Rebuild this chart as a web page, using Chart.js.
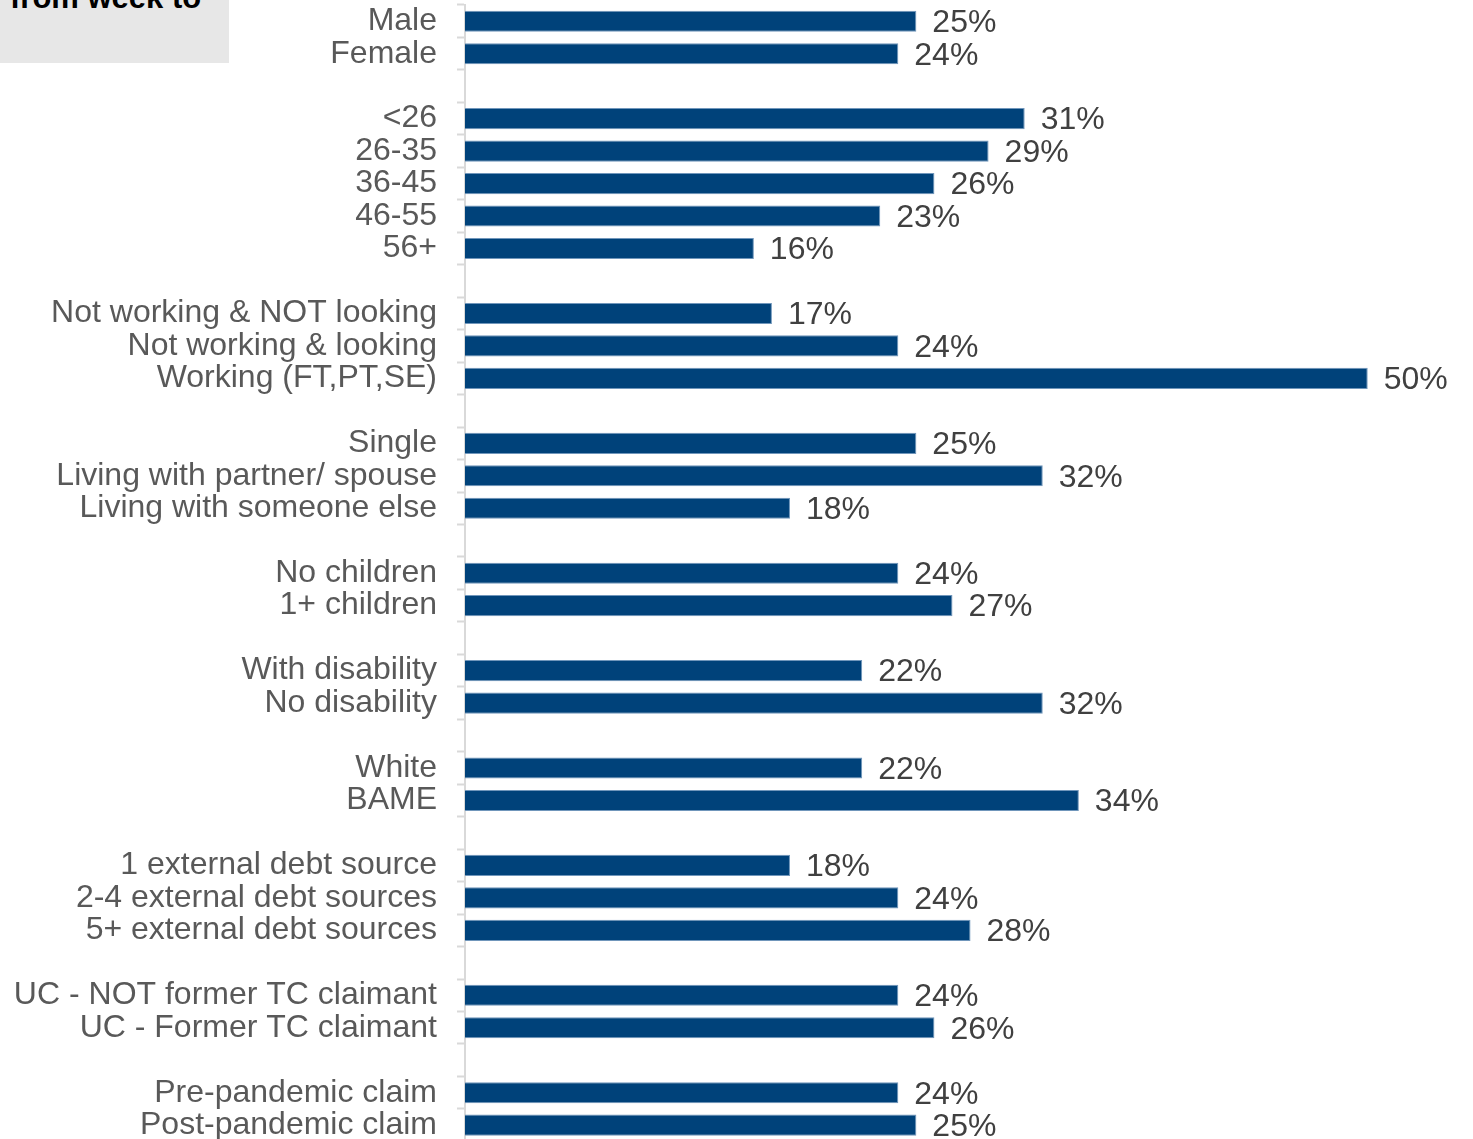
<!DOCTYPE html>
<html>
<head>
<meta charset="utf-8">
<script src="https://cdn.jsdelivr.net/npm/chart.js@4.4.1/dist/chart.umd.min.js"></script>
<style>
  html, body { margin: 0; padding: 0; background: #fff; overflow: hidden; }
  #wrap { position: relative; width: 1473px; height: 1139px; overflow: hidden; }
  #chart { position: absolute; left: 0; top: 0; }
  .tag {
    position: absolute; left: 0; top: 0; width: 229px; height: 63px;
    background: #e7e7e7; overflow: hidden; z-index: 2;
  }
  .tag span {
    position: absolute; left: 10px; bottom: 50px; white-space: nowrap;
    font: bold 31px "Liberation Sans", Arial, sans-serif; color: #000; line-height: 1;
  }
</style>
</head>
<body>
<div id="wrap">
  <div class="tag"><span>from week to</span></div>
  <canvas id="chart" width="1473" height="1160"></canvas>
</div>
<script>
// '' entries are spacer rows between groups
const categories = [
  'Male', 'Female', '',
  '<26', '26-35', '36-45', '46-55', '56+', '',
  'Not working & NOT looking', 'Not working & looking', 'Working (FT,PT,SE)', '',
  'Single', 'Living with partner/ spouse', 'Living with someone else', '',
  'No children', '1+ children', '',
  'With disability', 'No disability', '',
  'White', 'BAME', '',
  '1 external debt source', '2-4 external debt sources', '5+ external debt sources', '',
  'UC - NOT former TC claimant', 'UC - Former TC claimant', '',
  'Pre-pandemic claim', 'Post-pandemic claim'
];

const shares = [
  25, 24, null,
  31, 29, 26, 23, 16, null,
  17, 24, 50, null,
  25, 32, 18, null,
  24, 27, null,
  22, 32, null,
  22, 34, null,
  18, 24, 28, null,
  24, 26, null,
  24, 25
];

const FONT = "'Liberation Sans', Arial, sans-serif";
const BAR_BLUE = '#00427a';

// value text to the right of each bar
const valueLabels = {
  id: 'valueLabels',
  afterDatasetsDraw(chart) {
    const ctx = chart.ctx;
    const meta = chart.getDatasetMeta(0);
    ctx.save();
    ctx.font = '32px ' + FONT;
    ctx.fillStyle = '#404040';
    ctx.textAlign = 'left';
    ctx.textBaseline = 'middle';
    meta.data.forEach((bar, i) => {
      const v = shares[i];
      if (v === null) return;
      ctx.fillText(v + '%', bar.x + 16, bar.y + 2);
    });
    ctx.restore();
  }
};

const ctx = document.getElementById('chart').getContext('2d');
new Chart(ctx, {
  type: 'bar',
  data: {
    labels: categories,
    datasets: [{
      data: shares,
      backgroundColor: BAR_BLUE,
      borderColor: '#7096bb',
      borderWidth: 1,
      barPercentage: 0.65,
      categoryPercentage: 1
    }]
  },
  options: {
    indexAxis: 'y',
    responsive: false,
    animation: false,
    layout: { padding: { top: 5, bottom: 18.6, left: 0, right: 15 } },
    plugins: {
      legend: { display: false },
      tooltip: { enabled: false }
    },
    scales: {
      x: {
        display: false,
        min: 0,
        max: 55
      },
      y: {
        // fixed axis width; labels may run into the top/bottom margin
        afterFit(scale) {
          scale.width = 465;
          scale.paddingTop = 0;
          scale.paddingBottom = 0;
        },
        grid: {
          display: true,
          drawOnChartArea: false,
          drawTicks: true,
          tickLength: 8,
          tickWidth: 2,
          color: '#d9d9d9',
          offset: true
        },
        border: { display: true, color: '#d9d9d9', width: 2 },
        ticks: {
          autoSkip: false,
          padding: 20,
          color: '#595959',
          font: { family: FONT, size: 32, lineHeight: 1 }
        }
      }
    }
  },
  plugins: [valueLabels]
});
</script>
</body>
</html>
